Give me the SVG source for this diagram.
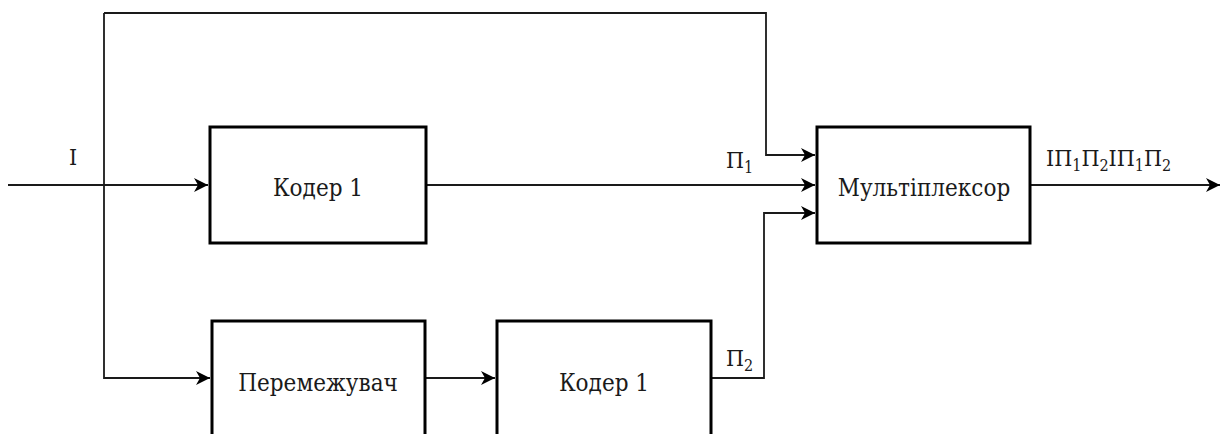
<svg xmlns="http://www.w3.org/2000/svg" width="1226" height="434" viewBox="0 0 1226 434">
<defs>
<style>
.box{fill:#fff;stroke:#000;stroke-width:3}
.ln{fill:none;stroke:#1a1a1a;stroke-width:1.8}
.t{font-family:"DejaVu Serif Condensed","DejaVu Serif",serif;font-stretch:condensed;font-size:24px;fill:#1a1a1a;text-anchor:middle}
.l{font-family:"DejaVu Serif Condensed","DejaVu Serif",serif;font-stretch:condensed;font-size:23px;fill:#1a1a1a}
.s{font-size:16px}
</style>
<marker id="ah" markerUnits="userSpaceOnUse" markerWidth="16" markerHeight="14" refX="14" refY="7" orient="auto">
<path d="M0,0 L14,7 L0,14 L4,7 Z" fill="#000"/>
</marker>
</defs>
<g id="connectors">
<path class="ln" d="M8,185 H208" marker-end="url(#ah)"/>
<path class="ln" d="M104,13 V378 H210" marker-end="url(#ah)"/>
<path class="ln" d="M104,13 H766 V155 H815" marker-end="url(#ah)"/>
<path class="ln" d="M426,185 H815" marker-end="url(#ah)"/>
<path class="ln" d="M425,378 H495" marker-end="url(#ah)"/>
<path class="ln" d="M711,378 H764 V213 H815" marker-end="url(#ah)"/>
<path class="ln" d="M1030,185 H1220" marker-end="url(#ah)"/>
</g>
<g id="coder1">
<rect class="box" x="210" y="127" width="216" height="116"/>
<text class="t" x="318" y="196">Кодер 1</text>
</g>
<g id="mux">
<rect class="box" x="817" y="127" width="213" height="116"/>
<text class="t" x="924" y="196">Мультіплексор</text>
</g>
<g id="interleaver">
<rect class="box" x="212" y="321" width="213" height="130"/>
<text class="t" x="318" y="391">Перемежувач</text>
</g>
<g id="coder1b">
<rect class="box" x="497" y="321" width="214" height="130"/>
<text class="t" x="604" y="391">Кодер 1</text>
</g>
<g id="labels">
<text class="l" x="69" y="165">I</text>
<text class="l" x="726" y="168">П<tspan class="s" dy="5">1</tspan></text>
<text class="l" x="726" y="366">П<tspan class="s" dy="5">2</tspan></text>
<text class="l" x="1046" y="166">IП<tspan class="s" dy="5">1</tspan><tspan dy="-5">П</tspan><tspan class="s" dy="5">2</tspan><tspan dy="-5">IП</tspan><tspan class="s" dy="5">1</tspan><tspan dy="-5">П</tspan><tspan class="s" dy="5">2</tspan></text>
</g>
</svg>
